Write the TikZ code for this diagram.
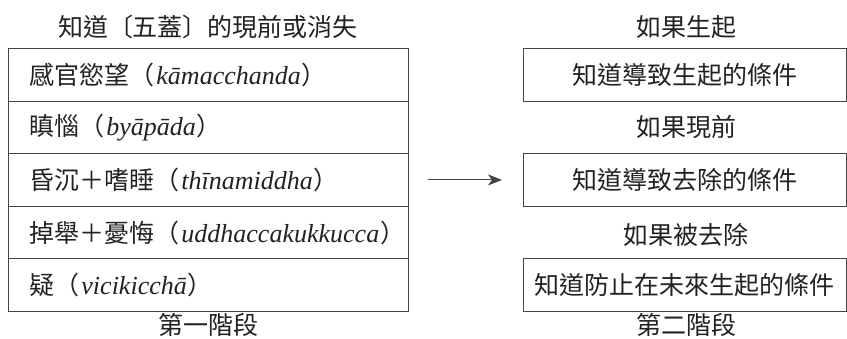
\documentclass[tikz,border=0pt]{standalone}
\usepackage{fontspec}
\setmainfont{Liberation Serif}
\newfontfamily\cjk{Noto Sans CJK TC}
\usetikzlibrary{arrows.meta}
\definecolor{ink}{HTML}{222222}
\definecolor{edge}{HTML}{444444}
\newcommand{\pali}[1]{（\hspace{2pt}{\rmfamily\itshape\fontsize{26}{30}\selectfont #1}\hspace{1pt}）}
\newcommand{\rowtext}[1]{\makebox[358pt][l]{#1}}
\begin{document}
\begin{tikzpicture}[x=1pt,y=-1pt,
  every node/.style={text=ink, font=\cjk\fontsize{25}{29}\selectfont},
  rowbox/.style={draw=edge, line width=0.9pt, minimum width=400, minimum height=52.6,
    anchor=north west, inner xsep=21, inner ysep=0},
  condbox/.style={draw=edge, line width=0.9pt, minimum width=323, minimum height=52.6,
    anchor=north west, inner sep=0, align=center},
  lbl/.style={inner sep=0}]
\useasboundingbox (0,0) rectangle (847,339);
\node[lbl] (t1) at (208,27) {知道〔五蓋〕的現前或消失};
\node[rowbox] (r1) at (8,48) {\rowtext{感官慾望\pali{kāmacchanda}}};
\node[rowbox] (r2) at (8,100.6) {\rowtext{瞋惱\pali{byāpāda}}};
\node[rowbox] (r3) at (8,153.2) {\rowtext{昏沉＋嗜睡\pali{thīnamiddha}}};
\node[rowbox] (r4) at (8,205.8) {\rowtext{掉舉＋憂悔\pali{uddhaccakukkucca}}};
\node[rowbox] (r5) at (8,258.4) {\rowtext{疑\pali{vicikicchā}}};
\node[lbl] (t2) at (208,325) {第一階段};
\node[lbl] (c1) at (686,27) {如果生起};
\node[condbox] (b1) at (523,48) {知道導致生起的條件};
\node[lbl] (c2) at (686,127) {如果現前};
\node[condbox] (b2) at (523,153.2) {知道導致去除的條件};
\node[lbl] (c3) at (686,235) {如果被去除};
\node[condbox] (b3) at (523,258.4) {知道防止在未來生起的條件};
\node[lbl] (t3) at (686,325) {第二階段};
\draw[edge, line width=0.9pt, -{Stealth[length=14pt,width=11pt,inset=4pt]}, shorten <=19pt, shorten >=21pt] (r3.east) -- (b2.west);
\end{tikzpicture}
\end{document}
